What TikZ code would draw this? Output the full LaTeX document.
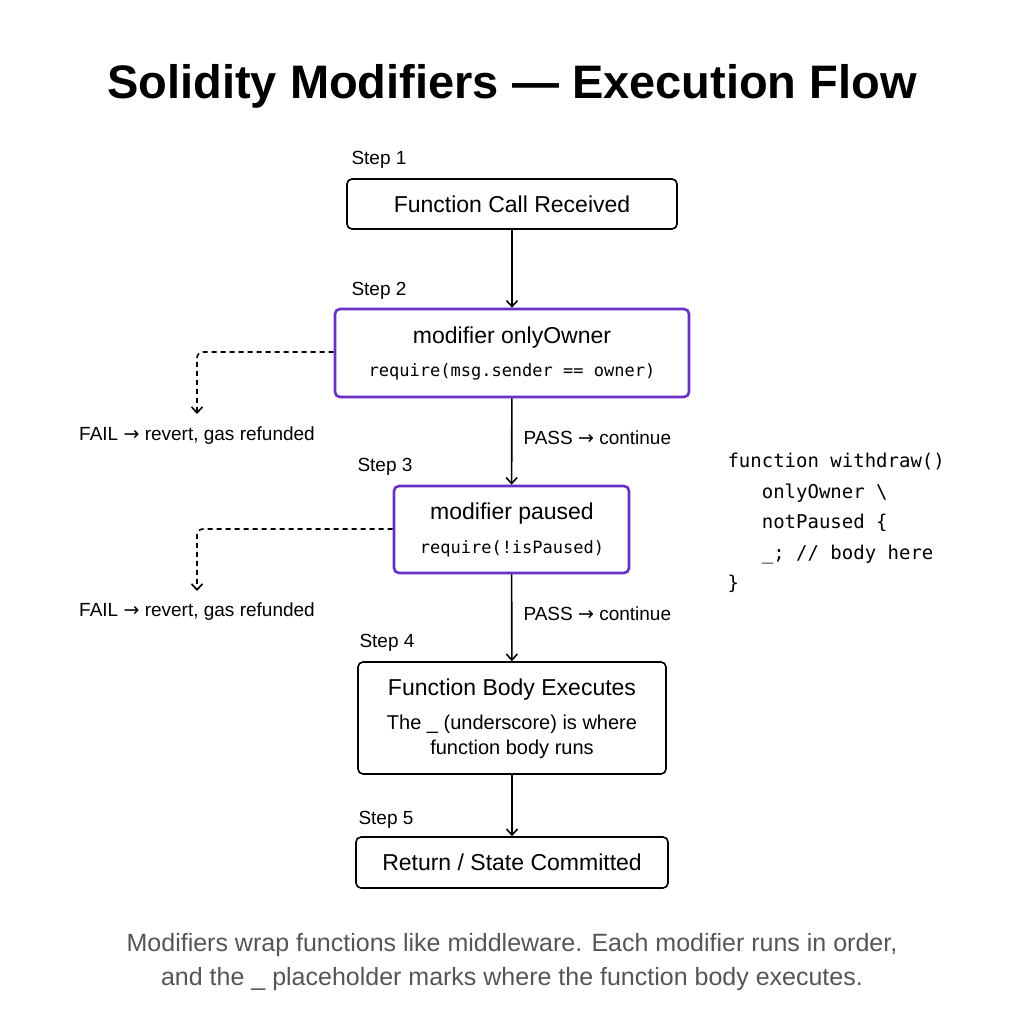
\documentclass[tikz,border=0pt]{standalone}
\usepackage{fontspec}
\setmainfont{Liberation Sans}
\newfontfamily\codefont{DejaVu Sans Mono}
\newfontfamily\symfont{DejaVu Sans}
\usetikzlibrary{arrows.meta}
\definecolor{purp}{HTML}{6A2FC2}
\definecolor{foot}{HTML}{555555}
\newcommand{\ra}{{\symfont →}}
\begin{document}
\begin{tikzpicture}[x=1pt,y=-1pt,
  box/.style={draw=black,line width=1.6pt,rounded corners=5pt,inner sep=0pt,align=center,font=\fontsize{23}{27}\selectfont},
  mod/.style={box,draw=purp,line width=2.6pt},
  steplbl/.style={anchor=west,font=\fontsize{19}{22}\selectfont},
  lbl/.style={font=\fontsize{19}{22}\selectfont},
  arr/.style={line width=1.6pt,-{Straight Barb[length=6pt,width=11pt]}},
  failarr/.style={arr,dash pattern=on 5pt off 4pt}]
\useasboundingbox (0,0) rectangle (1024,1024);
\node[font=\fontsize{47}{52}\bfseries\selectfont] (title) at (512,86) {Solidity Modifiers — Execution Flow};

\node[box,minimum width=330pt,minimum height=50pt] (b1) at (512,204) {Function Call Received};
\node[mod,minimum width=354pt,minimum height=88pt] (b2) at (512,353) {};
\node (b2t) at (512,338) {\fontsize{23}{27}\selectfont modifier onlyOwner};
\node (b2c) at (512,372) {\codefont\fontsize{17}{20}\selectfont require(msg.sender == owner)};
\node[mod,minimum width=235pt,minimum height=87pt] (b3) at (511.5,529.5) {};
\node (b3t) at (512,514) {\fontsize{23}{27}\selectfont modifier paused};
\node (b3c) at (512,549) {\codefont\fontsize{17}{20}\selectfont require(!isPaused)};
\node[box,minimum width=308pt,minimum height=112pt] (b4) at (512,718) {};
\node (b4t) at (512,690) {\fontsize{23}{27}\selectfont Function Body Executes};
\node[align=center,font=\fontsize{20}{25}\selectfont] (b4s) at (512,737) {The \_ (underscore) is where\\function body runs};
\node[box,minimum width=312pt,minimum height=51pt] (b5) at (512,862.5) {Return / State Committed};

\node[steplbl] (s1) at (348,160) {Step 1};
\node[steplbl] (s2) at (348,291) {Step 2};
\node[steplbl] (s3) at (354,467) {Step 3};
\node[steplbl] (s4) at (356,643) {Step 4};
\node[steplbl] (s5) at (355,820) {Step 5};

\draw[arr] (b1) -- (b2);
\draw[arr] (b2) -- (b3);
\draw[arr] (b3) -- (b4);
\draw[arr] (b4) -- (b5);

\node[lbl,anchor=west] (p1) at (520,438) {PASS \ra\ continue};
\node[lbl,anchor=west] (p2) at (520,614) {PASS \ra\ continue};

\coordinate (f1) at (197,414);
\coordinate (f2) at (197,591);
\draw[failarr,rounded corners=6pt] (b2.west |- 0,352) -| (f1);
\draw[failarr,rounded corners=6pt] (b3.west |- 0,529) -| (f2);
\node[lbl] (l1) at (197,436) {FAIL \ra\ revert, gas refunded};
\node[lbl] (l2) at (197,612) {FAIL \ra\ revert, gas refunded};

\node[anchor=north west,align=left,font=\codefont\fontsize{19}{30.5}\selectfont] (code) at (724,450)
{function withdraw()\\\ \ \ onlyOwner \textbackslash\\\ \ \ notPaused \{\\\ \ \ \_; // body here\\\}};

\node[align=center,text=foot,font=\fontsize{25}{34}\selectfont] (ft) at (512,962)
{Modifiers wrap functions like middleware. Each modifier runs in order,\\and the \_ placeholder marks where the function body executes.};
\end{tikzpicture}
\end{document}
